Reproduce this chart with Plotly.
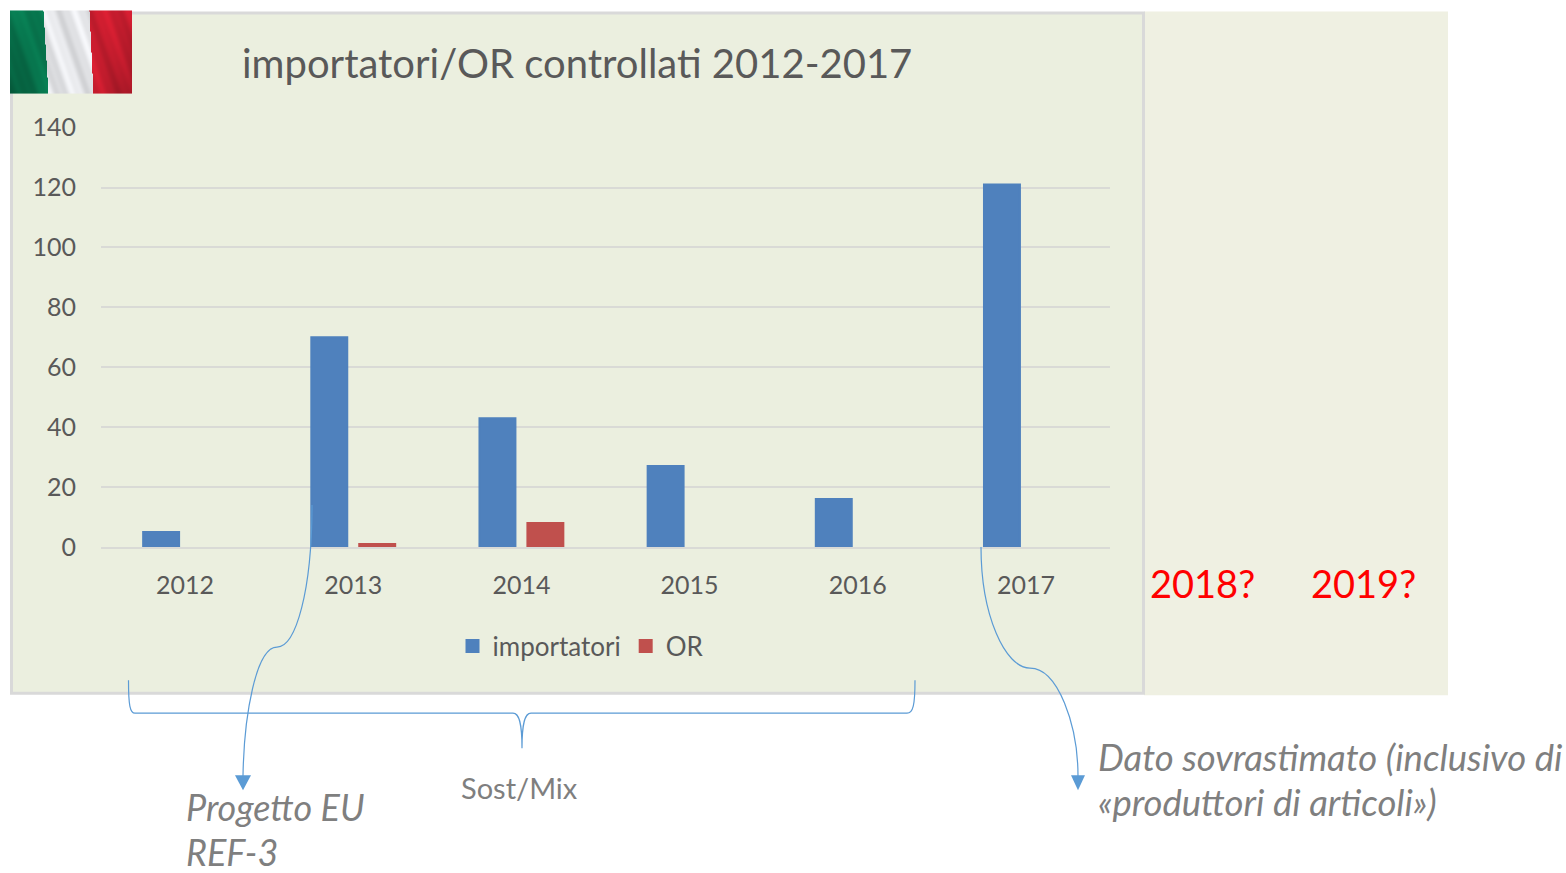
import base64
import struct
import zlib
import numpy as np
import plotly.graph_objects as go

years = ["2012", "2013", "2014", "2015", "2016", "2017"]
importatori = [5, 70, 43, 27, 16, 121]
operatori = [None, 1, 8, None, None, None]
title_text = "importatori/OR controllati 2012-2017"
font = "Lato, Carlito, Calibri, sans-serif"

W, H = 1566, 873
L, R, T, B = 101, 1110, 127.4, 547
def X(p): return (p - L) / (R - L)
def Y(p): return (B - p) / (B - T)
def path(segs):
    out = []
    for cmd, *pts in segs:
        out.append(cmd + " " + " ".join(f"{X(x):.5f},{Y(y):.5f}" for x, y in pts))
    return " ".join(out)
def rect(x0, y0, x1, y1, **kw):
    return dict(type="rect", xref="paper", yref="paper", x0=X(x0), x1=X(x1), y0=Y(y0), y1=Y(y1), layer="below", **kw)
def poly(pts, color):
    segs = [("M", pts[0])] + [("L", p) for p in pts[1:]] + [("Z",)]
    return dict(type="path", xref="paper", yref="paper", path=path(segs), fillcolor=color, line=dict(width=0), layer="above")
def curve(segs, color="#5B9BD5", width=1.2):
    return dict(type="path", xref="paper", yref="paper", path=path(segs), line=dict(color=color, width=width), layer="above")

def flag_png(w=122, h=83):
    yy, xx = np.mgrid[0:h, 0:w].astype(float)
    g_edge = 33 + 5 * yy / h
    r_edge = 79 + 4 * yy / h
    img = np.zeros((h, w, 3))
    img[:] = (228, 229, 232)
    img[xx < g_edge] = (8, 124, 82)
    img[xx >= r_edge] = (206, 30, 48)
    u = xx - 0.35 * yy
    shade = 1 + 0.06 * np.sin(u * 0.22) + 0.025 * np.sin(u * 0.6 + 1)
    mask = xx < g_edge
    shade[mask] *= 1 - 0.3 * (yy[mask] / h) * (1 - xx[mask] / 40)
    mask = xx >= r_edge
    shade[mask] *= 1 - 0.22 * (yy[mask] / h) * ((xx[mask] - 79) / 43)
    out = np.clip(img * shade[..., None], 0, 255).astype(np.uint8)
    raw = b"".join(b"\x00" + out[i].tobytes() for i in range(h))
    def chunk(t, d):
        return struct.pack(">I", len(d)) + t + d + struct.pack(">I", zlib.crc32(t + d))
    png = b"\x89PNG\r\n\x1a\n" + chunk(b"IHDR", struct.pack(">IIBBBBB", w, h, 8, 2, 0, 0, 0)) + chunk(b"IDAT", zlib.compress(raw)) + chunk(b"IEND", b"")
    return "data:image/png;base64," + base64.b64encode(png).decode()

shapes = [
    rect(1144, 12, 1448, 695, fillcolor="#EFF0E2", line=dict(width=0)),
    rect(11.5, 13.5, 1143.5, 693, fillcolor="#EBEFDF", line=dict(color="#D9D9D9", width=3)),
    curve([("M", (312, 505)), ("C", (312, 590), (296, 647), (277, 647)), ("C", (256, 647), (244, 715), (243, 776))]),
    poly([(235, 775), (251, 775), (243, 790)], "#5B9BD5"),
    curve([("M", (981, 547)), ("C", (981, 615), (1005, 668), (1030, 668)), ("C", (1058, 668), (1078, 725), (1078, 776))]),
    poly([(1071, 775), (1085, 775), (1078, 790)], "#5B9BD5"),
    curve([("M", (128.5, 680)), ("C", (128.5, 705), (130, 713), (135, 713)), ("L", (513, 713)),
           ("C", (519, 713), (522, 722), (522, 748)), ("C", (522, 722), (525, 713), (531, 713)),
           ("L", (907, 713)), ("C", (913, 713), (915, 705), (915, 680))]),
]

def note(text, x, y, size, color="#7F7F7F", italic=False, anchor="left", family=font):
    return dict(text=text, xref="paper", yref="paper", x=X(x), y=Y(y), xanchor=anchor, yanchor="middle",
                showarrow=False, font=dict(family=family, size=size, color=color, style="italic" if italic else "normal"))

annotations = [
    note("2018?", 1148, 583, 38, "#FF0000"),
    note("2019?", 1309, 583, 38, "#FF0000"),
    note("Sost/Mix", 519, 787, 29, anchor="center"),
    note("Progetto EU", 184, 807, 36, italic=True),
    note("REF-3", 184, 851.5, 36, italic=True),
    note("Dato sovrastimato (inclusivo di", 1096, 757, 36.5, italic=True),
    note("«produttori di articoli»)", 1096, 802, 36.5, italic=True),
    note(title_text, 576.5, 63, 40, "#595959", anchor="center"),
]

fig = go.Figure()
fig.add_bar(x=years, y=importatori, name="importatori", marker=dict(color="#4F81BD", line=dict(width=2, color="#4F81BD")))
fig.add_bar(x=years, y=operatori, name="OR", marker=dict(color="#C0504D", line=dict(width=2, color="#C0504D")))
fig.update_layout(
    width=W, height=H, margin=dict(l=L, r=W - R, t=T, b=H - B, autoexpand=False),
    paper_bgcolor="rgba(255,255,255,1)", plot_bgcolor="rgba(0,0,0,0)",
    barmode="group", bargap=0.43, bargroupgap=0.25, shapes=shapes, annotations=annotations,
    images=[dict(source=flag_png(), xref="paper", yref="paper", x=X(10), y=Y(11), sizex=X(132) - X(10), sizey=Y(11) - Y(94),
                 xanchor="left", yanchor="top", sizing="stretch", layer="above")],
    font=dict(family=font, color="#595959", size=25),
    showlegend=True,
    legend=dict(orientation="h", xref="paper", yref="paper", x=X(581), y=Y(646), xanchor="center", yanchor="middle",
                bgcolor="rgba(0,0,0,0)", font=dict(size=26, color="#595959"), traceorder="normal", itemwidth=30),
    xaxis=dict(type="category", categoryorder="array", categoryarray=years, showgrid=False, showline=True,
               linecolor="#D9DAD6", linewidth=2, ticks="", ticklabelstandoff=15, tickfont=dict(size=25, color="#595959"), zeroline=False),
    yaxis=dict(range=[0, 140.2], tickvals=[0, 20, 40, 60, 80, 100, 120, 140], gridcolor="#D9DAD6", gridwidth=2, showline=False, zeroline=False, ticks="",
               ticklabelstandoff=24, tickfont=dict(size=25, color="#595959")),
)
fig.write_html("out.html", config=dict(displayModeBar=False), post_script="document.body.style.margin='0';document.body.style.overflow='hidden';")
